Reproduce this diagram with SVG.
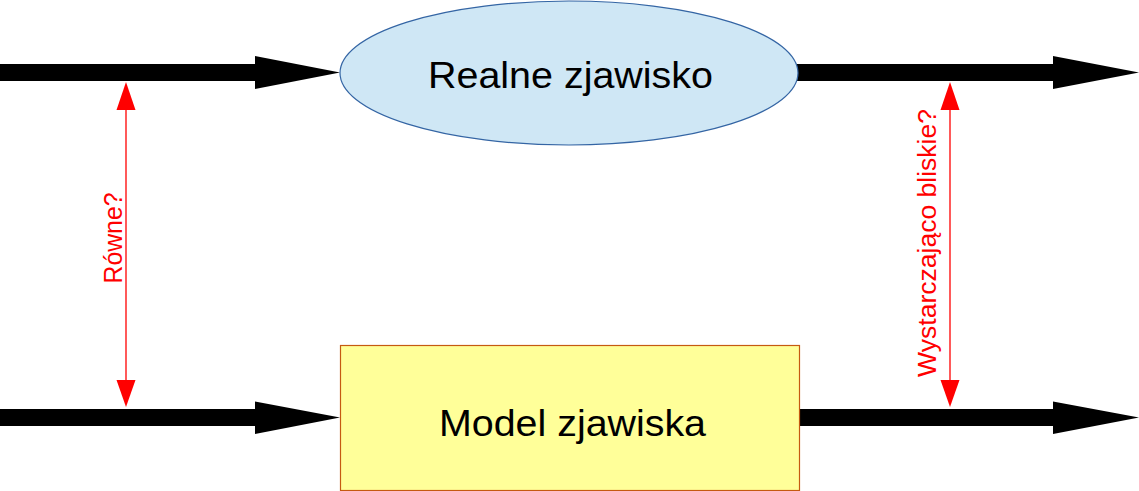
<svg xmlns="http://www.w3.org/2000/svg" width="1139" height="491" viewBox="0 0 1139 491">
<style>
.big{font-family:"Liberation Sans",Arial,sans-serif;font-size:37px;fill:#000}
.lbl{font-family:"Liberation Sans",Arial,sans-serif;font-size:26px;fill:#ff0000}
.flow{fill:#000}
.red{stroke:#ff0000;stroke-width:1.3;fill:none}
.redhead{fill:#ff0000}
</style>
<rect width="1139" height="491" fill="#fff"/>
<g id="connectors">
  <g id="flow-in-top" class="flow"><rect x="0" y="64" width="256" height="17"/><polygon points="255,56 340,72.5 255,89"/></g>
  <g id="flow-out-top" class="flow"><rect x="797" y="64" width="257" height="17"/><polygon points="1053,56 1139,72.5 1053,89"/></g>
  <g id="flow-in-bottom" class="flow"><rect x="0" y="409" width="256" height="17"/><polygon points="255,401.5 340,417.5 255,434"/></g>
  <g id="flow-out-bottom" class="flow"><rect x="799" y="409" width="255" height="17"/><polygon points="1053,401.5 1139,417.5 1053,434"/></g>
  <g id="compare-left">
    <line class="red" x1="126" y1="108" x2="126" y2="382"/>
    <polygon class="redhead" points="126,82 135.5,110 116.5,110"/>
    <polygon class="redhead" points="126,407 135.5,380 116.5,380"/>
  </g>
  <g id="compare-right">
    <line class="red" x1="950" y1="108" x2="950" y2="382"/>
    <polygon class="redhead" points="950,82 959.5,110 940.5,110"/>
    <polygon class="redhead" points="950,407 959.5,380 940.5,380"/>
  </g>
</g>
<g id="label-rowne"><text class="lbl" transform="translate(121.5,238) rotate(-90)" text-anchor="middle" textLength="91" lengthAdjust="spacingAndGlyphs">Równe?</text></g>
<g id="label-bliskie"><text class="lbl" transform="translate(936,243) rotate(-90)" text-anchor="middle" textLength="268" lengthAdjust="spacingAndGlyphs">Wystarczająco bliskie?</text></g>
<g id="node-real">
  <ellipse cx="569" cy="73" rx="229" ry="72" fill="#cfe7f5" stroke="#3465a4" stroke-width="1.2"/>
  <text class="big" x="570.5" y="87.5" text-anchor="middle" textLength="285" lengthAdjust="spacingAndGlyphs">Realne zjawisko</text>
</g>
<g id="node-model">
  <rect x="340.5" y="345.5" width="459" height="145" fill="#ffff99" stroke="#c55a11" stroke-width="1.2"/>
  <text class="big" x="572.5" y="435.5" text-anchor="middle" textLength="267" lengthAdjust="spacingAndGlyphs">Model zjawiska</text>
</g>
</svg>
